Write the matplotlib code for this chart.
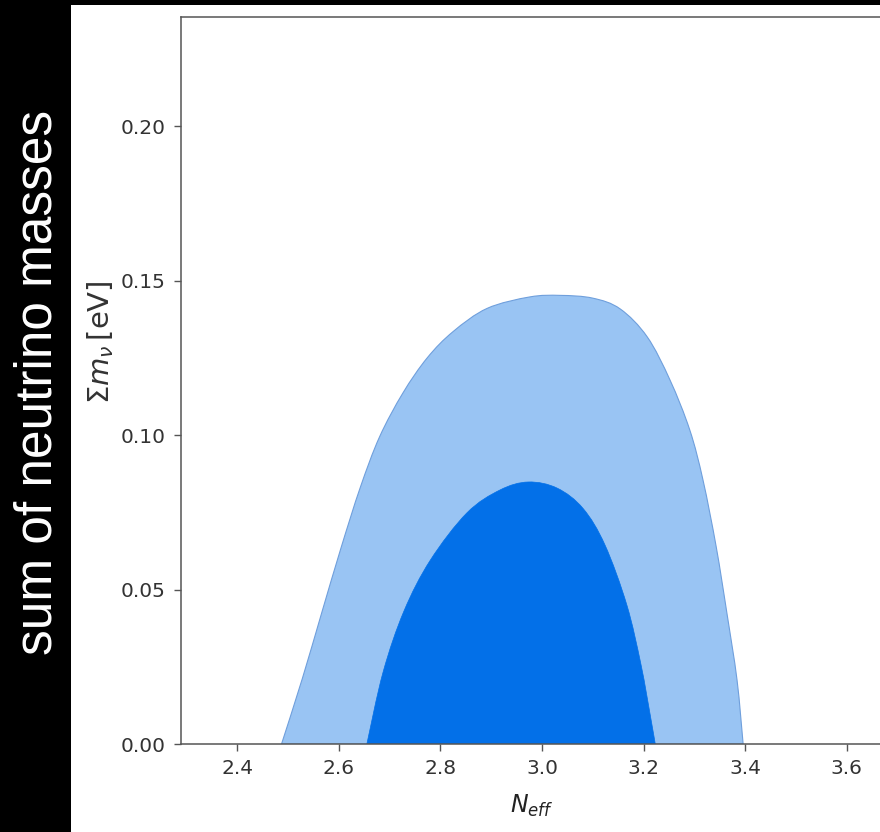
import numpy as np
import matplotlib.pyplot as plt
from matplotlib.patches import Rectangle, PathPatch
from matplotlib.path import Path

# 95% contour (outer), boundary traced left -> right
neff_95 = [2.487, 2.528, 2.566, 2.604, 2.642, 2.680, 2.726, 2.774, 2.825, 2.892,
           2.976, 3.036, 3.100, 3.154, 3.207, 3.252, 3.291, 3.317, 3.343, 3.364,
           3.384, 3.396]
mnu_95 = [0.0, 0.0212, 0.0424, 0.0634, 0.0830, 0.0994, 0.1136, 0.1250, 0.1335, 0.1410,
          0.1447, 0.1452, 0.1443, 0.1408, 0.1318, 0.1178, 0.1016, 0.0854, 0.0638, 0.0424,
          0.0207, 0.0]

# 68% contour (inner)
neff_68 = [2.655, 2.687, 2.728, 2.780, 2.852, 2.917, 2.973, 3.030, 3.081, 3.124,
           3.167, 3.195, 3.214, 3.223]
mnu_68 = [0.0, 0.0233, 0.0430, 0.0595, 0.0748, 0.0822, 0.0848, 0.0828, 0.0762, 0.0644,
          0.0450, 0.0256, 0.0085, 0.0]

xticks = [2.4, 2.6, 2.8, 3.0, 3.2, 3.4, 3.6]
yticks = [0.00, 0.05, 0.10, 0.15, 0.20]


def smooth_patch(ax, xs, ys, **kw):
    # catmull-rom through the points, drawn as cubic bezier segments in display space
    # so the curve is round even though the axes are not square
    pts = ax.transData.transform(np.column_stack([xs, ys]))
    n = len(pts)
    verts = [pts[0]]
    codes = [Path.MOVETO]
    for i in range(n-1):
        p0 = pts[max(i-1, 0)]
        p1, p2 = pts[i], pts[i+1]
        p3 = pts[min(i+2, n-1)]
        verts += [p1 + (p2-p0)/6, p2 - (p3-p1)/6, p2]
        codes += [Path.CURVE4]*3
    verts.append(pts[0])
    codes.append(Path.CLOSEPOLY)
    verts = ax.transData.inverted().transform(np.array(verts))
    p = PathPatch(Path(verts, codes), **kw)
    ax.add_patch(p)
    return p


W, H = 880, 832
fig = plt.figure(figsize=(W/100, H/100), dpi=100, facecolor='black')

# white page on the black slide
fig.patches.append(Rectangle((71/W, 0), 1 - 71/W, (H-5)/H, transform=fig.transFigure,
                             facecolor='white', edgecolor='none', zorder=-1))

ax = fig.add_axes([181/W, (H-744)/H, (881-181)/W, (744-17)/H])
ax.set_xlim(2.289, 3.6675)
ax.set_ylim(0, 0.2353)

smooth_patch(ax, neff_95, mnu_95, facecolor='#99c4f3', edgecolor='#6f9fdc', lw=0.8, zorder=1)
smooth_patch(ax, neff_68, mnu_68, facecolor='#0370e8', edgecolor='#0370e8', lw=0.5, zorder=2)

ax.set_xticks(xticks)
ax.set_yticks(yticks)
ax.set_xticklabels([f'{v:.1f}' for v in xticks])
ax.set_yticklabels([f'{v:.2f}' for v in yticks])
ax.tick_params(labelsize=14.5, labelcolor='#333333', color='#555555',
               length=5, width=1.0, pad=6)
for s in ax.spines.values():
    s.set_color('#555555')
    s.set_linewidth(1.1)
ax.spines['bottom'].set_zorder(3)

fig.text(532/W, 1 - 806/H, r'$N_{eff}$', fontsize=17, color='#222222',
         ha='center', va='center')
fig.text(101/W, 1 - 342/H, r'$\Sigma m_\nu\,[\mathrm{eV}]$', fontsize=21,
         color='#333333', rotation=90, ha='center', va='center')

fig.text(38/W, 1 - 382/H, 'sum of neutrino masses', fontsize=37, color='white',
         family=['Liberation Sans', 'DejaVu Sans'], rotation=90,
         ha='center', va='center')

fig.savefig('out.png', dpi=100, facecolor=fig.get_facecolor())
